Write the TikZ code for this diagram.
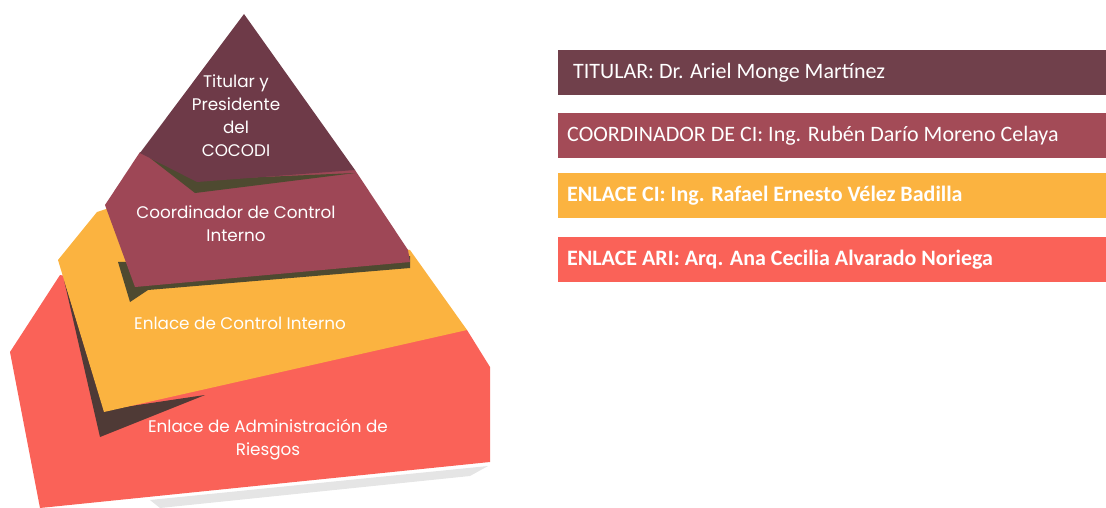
\documentclass[tikz,border=0pt]{standalone}
\usepackage{fontspec}
\setmainfont{Carlito}
\newfontfamily\pyrfont{Poppins}
\usetikzlibrary{positioning}

\definecolor{plum}{HTML}{6E3A48}
\definecolor{wine}{HTML}{9E4756}
\definecolor{amber}{HTML}{FBB340}
\definecolor{coral}{HTML}{FA6258}
\definecolor{olive}{HTML}{4E4A30}
\definecolor{umber}{HTML}{4F3A36}
\definecolor{barplum}{HTML}{70404B}
\definecolor{barwine}{HTML}{A34B57}

\tikzset{
  pyrtext/.style={text=white, align=center, font=\pyrfont\fontsize{16.8}{23}\selectfont},
  bar/.style={fill=#1, anchor=north west, minimum width=548pt, minimum height=45pt,
    inner sep=0pt},
  bartext/.style={anchor=west, text=white, inner sep=0pt, font=\fontsize{22}{23}\selectfont}
}

\begin{document}
\begin{tikzpicture}[x=1pt,y=-1pt]
  \useasboundingbox (0,0) rectangle (1106,508);

  \fill[gray!20] (150,500) -- (488,466) -- (470,476) -- (160,508) -- cycle;
  \fill[coral] (60,275) -- (200,300) -- (467,330) -- (490,367) -- (490,462)
    -- (40,508) -- (10,352) -- cycle;
  \fill[umber] (64,280) -- (100,437) -- (205,395) -- (104,410) -- cycle;
  \fill[amber] (97,212) -- (112,207) -- (410,250) -- (467,330) -- (104,412)
    -- (58,260) -- cycle;
  \fill[olive] (118,262) -- (130,302) -- (148,290) -- (410,268) -- (410,256) -- cycle;
  \fill[wine] (140,152) -- (355,170) -- (408,250) -- (410,262) -- (135,287)
    -- (105,205) -- cycle;
  \fill[olive] (150,158) -- (195,193) -- (355,173) -- (195,180) -- cycle;
  \fill[plum] (244,14) -- (355,170) -- (197,182) -- (140,153) -- cycle;

  \node[pyrtext] (titular) at (236,116) {Titular y\\Presidente\\del\\COCODI};
  \node[pyrtext] (coord) at (236,224) {Coordinador de Control\\Interno};
  \node[pyrtext] (enlaceci) at (240,323) {Enlace de Control Interno};
  \node[pyrtext] (enlaceari) at (268,440) {Enlace de Administración de\\Riesgos};

  \node[bar=barplum] (b1) at (558,50) {};
  \node[bar=barwine] (b2) at (558,113) {};
  \node[bar=amber] (b3) at (558,173) {};
  \node[bar=coral] (b4) at (558,237) {};

  \node[bartext] (t1) at ([xshift=15pt]b1.west) {TITULAR: Dr. Ariel Monge Martínez};
  \node[bartext] (t2) at ([xshift=9pt]b2.west) {COORDINADOR DE CI: Ing. Rubén Darío Moreno Celaya};
  \node[bartext, font=\bfseries\fontsize{22}{23}\selectfont] (t3) at ([xshift=9pt]b3.west) {ENLACE CI: Ing. Rafael Ernesto Vélez Badilla};
  \node[bartext, font=\bfseries\fontsize{22}{23}\selectfont] (t4) at ([xshift=9pt]b4.west) {ENLACE ARI: Arq. Ana Cecilia Alvarado Noriega};
\end{tikzpicture}
\end{document}
